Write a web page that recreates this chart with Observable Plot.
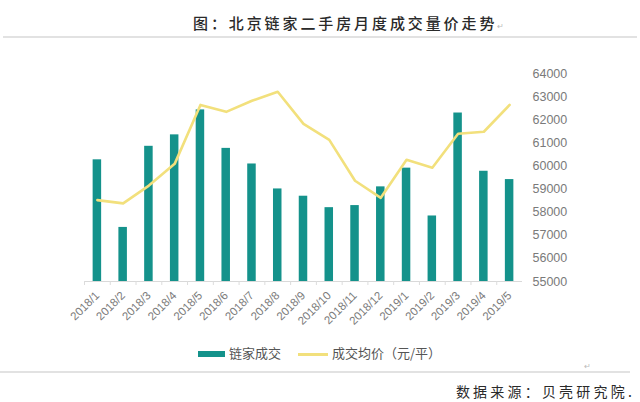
<!DOCTYPE html>
<html>
<head>
<meta charset="utf-8">
<script src="https://cdn.jsdelivr.net/npm/d3@7"></script>
<script src="https://cdn.jsdelivr.net/npm/@observablehq/plot@0.6"></script>
<style>
  html, body { margin: 0; padding: 0; background: #fff; }
  #wrap { position: relative; width: 640px; height: 402px; overflow: hidden; font-family: "Noto Sans CJK SC", sans-serif; }
  .abs { position: absolute; }
  #title { left: 193px; top: 12px; font-size: 15px; letter-spacing: 2.9px; color: #2a2a2a; font-weight: 500; white-space: nowrap; font-family: "Noto Sans CJK SC"; }
  .ret { color: #bbb; font-size: 8px; letter-spacing: 0; }
  .hr { height: 2px; background: #e2e2e2; }
  #source { right: 5px; top: 381px; font-size: 14px; letter-spacing: 3.2px; color: #2a2a2a; white-space: nowrap; }
  .legend { top: 343px; font-size: 13px; color: #555; white-space: nowrap; }
  .sw { display: inline-block; vertical-align: middle; margin-right: 4px; }
  .plotlayer { position: absolute; left: 0; top: 40px; }
</style>
</head>
<body>
<div id="wrap">
  <div id="title" class="abs">图：北京链家二手房月度成交量价走势<span class="ret">↵</span></div>
  <div class="abs hr" style="left:3px; top:36px; width:634px;"></div>
  <div id="bars" class="plotlayer"></div>
  <div id="line" class="plotlayer"></div>
  <div id="legend1" class="abs legend" style="left:198px;"></div>
  <div id="legend2" class="abs legend" style="left:298px;"></div>
  <div class="abs" style="left:584px; top:360px; font-size:8px; color:#bbb;">↵</div>
  <div class="abs hr" style="left:0px; top:371px; width:630px;"></div>
  <div id="source" class="abs">数据来源：贝壳研究院.</div>
</div>
<script>
// ---- data ----
const months = ["2018/1","2018/2","2018/3","2018/4","2018/5","2018/6","2018/7","2018/8","2018/9","2018/10","2018/11","2018/12","2019/1","2019/2","2019/3","2019/4","2019/5"];
const deals = [11700, 5200, 13000, 14100, 16500, 12800, 11300, 8900, 8200, 7100, 7300, 9100, 10900, 6300, 16200, 10600, 9800];
const prices = [58520, 58380, 59150, 60090, 62640, 62340, 62820, 63210, 61820, 61130, 59360, 58620, 60270, 59920, 61390, 61480, 62640];
const priceTicks = [55000, 56000, 57000, 58000, 59000, 60000, 61000, 62000, 63000, 64000];
const seriesNames = ["链家成交", "成交均价（元/平）"];
const colors = ["#14928b", "#f2e07c"];

const rows = months.map((m, i) => ({month: m, deals: deals[i], price: prices[i]}));

const W = 640, H = 300;
const common = {
  width: W, height: H,
  marginLeft: 84, marginRight: 118, marginTop: 33, marginBottom: 59,
  style: {background: "transparent", fontFamily: "'Liberation Sans', Arial, sans-serif"},
  x: {domain: months, paddingInner: 0.67, paddingOuter: 0.335, round: false, axis: null, label: null}
};
const bw = (W - 84 - 118) / months.length;

const barsPlot = Plot.plot({
  ...common,
  y: {domain: [0, 20000], axis: null, label: null},
  marks: [
    Plot.barY(rows, {x: "month", y: "deals", fill: colors[0]}),
    Plot.ruleY([0], {stroke: "#d9d9d9", strokeWidth: 1}),
    Plot.axisX({tickSize: 4, stroke: "#dcdcdc", tickFormat: () => "", dx: -bw / 2, label: null}),
    Plot.axisX({tickSize: 0, tickRotate: -45, tickPadding: 12, fontSize: 11.5, fill: "#7a7a7a", label: null})
  ]
});
document.getElementById("bars").appendChild(barsPlot);

const linePlot = Plot.plot({
  ...common,
  y: {domain: [55000, 64000], axis: null, label: null},
  marks: [
    Plot.line(rows, {x: "month", y: "price", stroke: colors[1], strokeWidth: 2.6, strokeLinejoin: "round"}),
    Plot.axisY(priceTicks, {anchor: "right", tickSize: 0, tickPadding: 10, fontSize: 12.5, fill: "#7a7a7a", tickFormat: d => String(d), label: null})
  ]
});
document.getElementById("line").appendChild(linePlot);

document.getElementById("legend1").innerHTML =
  `<span class="sw" style="width:27px;height:6px;background:${colors[0]}"></span>${seriesNames[0]}`;
document.getElementById("legend2").innerHTML =
  `<span class="sw" style="width:30px;height:3px;background:${colors[1]}"></span>${seriesNames[1]}`;
</script>
</body>
</html>
